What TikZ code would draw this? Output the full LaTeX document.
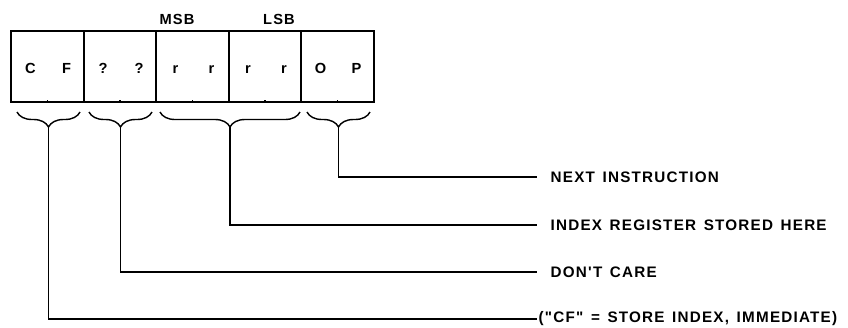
\documentclass[tikz,border=0pt]{standalone}
\usepackage{fontspec}
\setmainfont{Liberation Sans}[Ligatures=TeXOff, LetterSpace=8, WordSpace=1.4]
\usetikzlibrary{positioning,decorations.pathreplacing}

\begin{document}
\begin{tikzpicture}[x=0.03cm, y=-0.03cm, line width=1.2pt,
    cell/.style={draw, line width=1.5pt, minimum width=2.19cm, minimum height=2.13cm, inner sep=0},
    digit/.style={anchor=base, inner sep=0, font=\fontsize{12.5}{14}\selectfont\bfseries},
    brc/.style={decorate, decoration={brace, mirror, amplitude=0.45cm}},
    note/.style={anchor=west, inner xsep=0.39cm, inner ysep=0, font=\fontsize{13}{15}\selectfont\bfseries}]
      \useasboundingbox (0,0) rectangle (848,327);

      % Register cells
      \foreach \x [count=\i] in {47.5,120,192.5,265,337.5}
        \node[cell] (c\i) at (\x,66.5) {};

      % Cell contents
      \foreach \a/\b [count=\i] in {C/F,?/?,r/r,r/r,O/P} {
        \node[digit] (la\i) at ([xshift=-0.51cm, yshift=-0.2cm]c\i.center) {\a};
        \node[digit] (lb\i) at ([xshift=0.57cm, yshift=-0.2cm]c\i.center) {\b};
        \draw (c\i.south) -- ++(0,-3);
      }

      % Byte order
      \node[digit, anchor=center] (msb) at (177,19) {MSB};
      \node[digit, anchor=center] (lsb) at (279,19) {LSB};

      % Braces
      \draw[brc] (17,112) -- coordinate[midway, yshift=-0.45cm] (t1) (80,112);
      \draw[brc] (89,112) -- coordinate[midway, yshift=-0.45cm] (t2) (152,112);
      \draw[brc] (160,112) -- coordinate[midway, yshift=-0.45cm] (t3) (300,112);
      \draw[brc] (307,112) -- coordinate[midway, yshift=-0.45cm] (t4) (370,112);

      % Labels
      \node[note] (n4) at (537,177) {NEXT INSTRUCTION};
      \node[note] (n3) at (537,225) {INDEX REGISTER STORED HERE};
      \node[note] (n2) at (537,272) {DON'T CARE};
      \node[note, inner xsep=0.03cm] (n1) at (537,319) {("CF" = STORE INDEX, IMMEDIATE)};

      % Connections
      \foreach \i in {1,...,4}
        \draw (t\i) |- (n\i.west);
    \end{tikzpicture}
\end{document}
